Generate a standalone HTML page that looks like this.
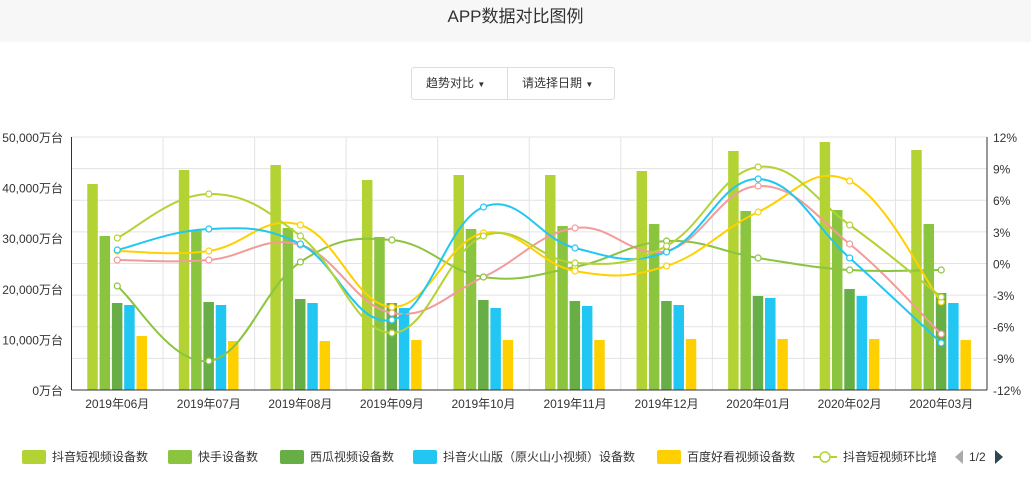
<!DOCTYPE html>
<html><head><meta charset="utf-8"><style>
body{margin:0;width:1031px;height:477px;background:#fff;overflow:hidden;font-family:"Liberation Sans","Noto Sans CJK SC",sans-serif;position:relative}
.top{position:absolute;left:0;top:0;width:1031px;height:42px;background:#f7f7f7;text-align:center;font-size:17px;line-height:34px;color:#333}
.btns{position:absolute;left:411px;top:67px;width:202px;height:31px;border:1px solid #ddd;border-radius:3px;font-size:12px;color:#333}
.btns div{position:absolute;top:0;line-height:31px}
</style></head><body>
<div class="top">APP数据对比图例</div>
<div class="btns"><div style="left:14px">趋势对比 <span style="font-size:8px">▼</span></div><div style="left:95px;height:31px;border-left:1px solid #ddd;padding-left:14px">请选择日期 <span style="font-size:8px">▼</span></div></div>
<svg id="c" width="1031" height="477" style="position:absolute;left:0;top:0"></svg>
<script>
var s='',L=71.5,R=987,T=137,B=390,cw=(R-L)/10;
for(var k=0;k<=8;k++){var y=T+k*(B-T)/8;s+='<line x1="'+L+'" x2="'+R+'" y1="'+y+'" y2="'+y+'" stroke="#e3e3e3"/>';}
for(var i=1;i<10;i++){var x=L+i*cw;s+='<line x1="'+x+'" x2="'+x+'" y1="'+T+'" y2="'+B+'" stroke="#e3e3e3"/>';}
var ll=['50,000万台','40,000万台','30,000万台','20,000万台','10,000万台','0万台'];
for(var k=0;k<6;k++)s+='<text x="63" y="'+(T+k*50.6+5)+'" text-anchor="end" font-size="12" fill="#333">'+ll[k]+'</text>';
var rl=['12%','9%','6%','3%','0%','-3%','-6%','-9%','-12%'];
for(var k=0;k<9;k++)s+='<text x="993" y="'+(T+k*31.6+5)+'" font-size="12" fill="#333">'+rl[k]+'</text>';
var xl=['2019年06月','2019年07月','2019年08月','2019年09月','2019年10月','2019年11月','2019年12月','2020年01月','2020年02月','2020年03月'];
var bars=[[184,236,303,305,336],[170,230,302,305,341],[165,228,299,303,341],[180,237,303,308,340],[175,229,300,308,340],[175,226,301,306,340],[171,224,301,305,339],[151,211,296,298,339],[142,210,289,296,339],[150,224,293,303,340]];
var bc=['#b3d234','#8bc43f','#66ae45','#21c7f2','#ffd000'];
for(var i=0;i<10;i++){var cx=L+(i+0.5)*cw;
s+='<text x="'+cx+'" y="408" text-anchor="middle" font-size="12" fill="#333">'+xl[i]+'</text>';
for(var j=0;j<5;j++){var bx=cx-25+j*12.3-5;s+='<rect x="'+bx+'" y="'+bars[i][j]+'" width="10.5" height="'+(B-bars[i][j])+'" fill="'+bc[j]+'"/>';}}
var lines=[['#f29b9b',[260,260,245,313,277,228,251,186,244,334]],['#8bc43f',[286,361,262,240,277,267,241,258,270,270]],['#ffd000',[251,251,225,307,233,271,266,212,181,302]],['#21c7f2',[250,229,244,320,207,248,252,179,258,343]],['#b3d234',[238,194,236,333,236,263,246,167,225,297]]];
lines.forEach(function(l){var p=l[1].map(function(y,i){return [L+(i+0.5)*cw,y]});var d='M'+p[0];
for(var i=0;i<p.length-1;i++){var p0=p[i-1]||p[i],p1=p[i],p2=p[i+1],p3=p[i+2]||p2,t=0.5/3*1.2;
d+=' C'+(p1[0]+(p2[0]-p0[0])*t)+','+(p1[1]+(p2[1]-p0[1])*t)+' '+(p2[0]-(p3[0]-p1[0])*t)+','+(p2[1]-(p3[1]-p1[1])*t)+' '+p2;}
s+='<path d="'+d+'" fill="none" stroke="'+l[0]+'" stroke-width="2"/>';
p.forEach(function(q){s+='<circle cx="'+q[0]+'" cy="'+q[1]+'" r="3" fill="#fff" stroke="'+l[0]+'" stroke-width="1.2"/>';});});
s+='<line x1="'+L+'" x2="'+L+'" y1="'+T+'" y2="'+B+'" stroke="#333"/><line x1="'+R+'" x2="'+R+'" y1="'+T+'" y2="'+B+'" stroke="#333"/><line x1="'+L+'" x2="'+R+'" y1="'+B+'" y2="'+B+'" stroke="#333"/>';
var lg=[[22,'抖音短视频设备数',bc[0]],[168,'快手设备数',bc[1]],[280,'西瓜视频设备数',bc[2]],[413,'抖音火山版（原火山小视频）设备数',bc[3]],[657,'百度好看视频设备数',bc[4]]];
lg.forEach(function(g){s+='<rect x="'+g[0]+'" y="450" width="24" height="14" rx="2" fill="'+g[2]+'"/><text x="'+(g[0]+30)+'" y="461" font-size="12" fill="#333">'+g[1]+'</text>';});
s+='<line x1="813" x2="837" y1="457" y2="457" stroke="#b3d234" stroke-width="2"/><circle cx="825" cy="457" r="5" fill="#fff" stroke="#b3d234" stroke-width="1.5"/><text x="843" y="461" font-size="12" fill="#333">抖音短视频环比增</text>';
s+='<rect x="936" y="440" width="95" height="37" fill="#fff"/><polygon points="963,450 963,464 955,457" fill="#aaa"/><text x="969" y="461" font-size="12" fill="#333">1/2</text><polygon points="995,450 995,464 1003,457" fill="#2f4554"/>';
document.getElementById('c').innerHTML=s;
</script>
</body></html>
